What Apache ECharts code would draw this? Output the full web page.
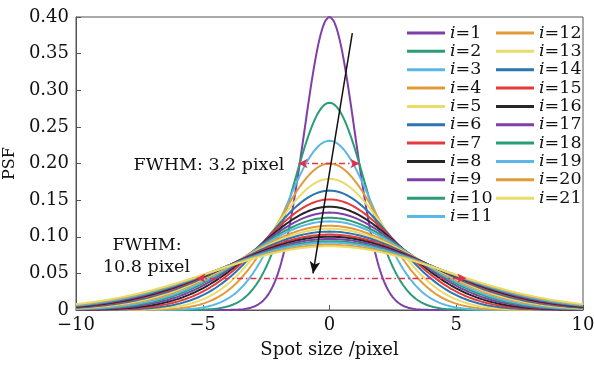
<!DOCTYPE html>
<html>
<head>
<meta charset="utf-8">
<script src="https://cdn.jsdelivr.net/npm/echarts@6/dist/echarts.min.js"></script>
<style>
  html, body { margin: 0; padding: 0; background: #fff; }
  #chart { width: 594px; height: 366px; }
</style>
</head>
<body>
<div id="chart"></div>
<script>
// Peak PSF value of each spot index i = 1..21 (normalised Gaussian spots)
const spotIndex = [1, 2, 3, 4, 5, 6, 7, 8, 9, 10, 11, 12, 13, 14, 15, 16, 17, 18, 19, 20, 21];
const peakPSF = [0.400, 0.283, 0.231, 0.200, 0.179, 0.163, 0.151, 0.141, 0.133, 0.126, 0.121,
                 0.115, 0.111, 0.107, 0.103, 0.100, 0.097, 0.094, 0.092, 0.089, 0.087];

// Axis ticks
const xTicks = [-10, -5, 0, 5, 10];
const yTicks = [0, 0.05, 0.10, 0.15, 0.20, 0.25, 0.30, 0.35, 0.40];

// Half-maximum markers: [y, xLeft, xRight]
const fwhmNarrow = [0.200, -1.22, 1.18];
const fwhmWide = [0.0435, -5.25, 5.40];
// Trend arrow (start -> end)
const trendArrow = [[0.90, 0.378], [-0.65, 0.050]];

const palette = ['#7E3FA8', '#2A9D78', '#5BB8E6', '#E39B3A', '#E9DC6A', '#2C75B0', '#E5393B', '#262626'];
const serif = 'DejaVu Serif';

// Sample each spot profile across the axis range
function profile(peak) {
  const sigma = 1 / (peak * Math.sqrt(2 * Math.PI));
  const pts = [];
  for (let k = 0; k <= 400; k++) {
    const x = xTicks[0] + k * 0.05;
    pts.push([x, peak * Math.exp(-x * x / (2 * sigma * sigma))]);
  }
  return pts;
}

const names = spotIndex.map(i => 'i=' + i);
const series = spotIndex.map((i, k) => ({
  name: names[k],
  type: 'line',
  symbol: 'none',
  color: palette[k % palette.length],
  lineStyle: { width: 2, color: palette[k % palette.length] },
  data: profile(peakPSF[k]),
  silent: true,
  animation: false
}));

const redDash = { color: '#E0304A', width: 1.3, type: [6, 3, 1.5, 3] };

// Annotation arrows
series.push({
  name: 'annot',
  type: 'line',
  data: [],
  animation: false,
  markLine: {
    silent: true,
    animation: false,
    label: { show: false },
    data: [
      [
        { coord: [fwhmNarrow[1], fwhmNarrow[0]], symbol: 'arrow', symbolSize: [7, 9] },
        { coord: [fwhmNarrow[2], fwhmNarrow[0]], symbol: 'arrow', symbolSize: [7, 9], lineStyle: redDash }
      ],
      [
        { coord: [fwhmWide[1], fwhmWide[0]], symbol: 'arrow', symbolSize: [7, 9] },
        { coord: [fwhmWide[2], fwhmWide[0]], symbol: 'arrow', symbolSize: [7, 9], lineStyle: redDash }
      ],
      [
        { coord: trendArrow[0], symbol: 'none' },
        { coord: trendArrow[1], symbol: 'arrow', symbolSize: [8, 12],
          lineStyle: { color: '#111', width: 1.5, type: 'solid' } }
      ]
    ]
  }
});

const legendText = {
  fontFamily: serif,
  fontSize: 17.5,
  color: '#111',
  lineHeight: 16,
  rich: {
    it: { fontFamily: serif, fontStyle: 'italic', fontSize: 17.5, color: '#111', lineHeight: 16 },
    n: { fontFamily: serif, fontSize: 17.5, color: '#111', lineHeight: 16 }
  }
};
const legendFmt = name => '{it|i}{n|' + name.slice(1) + '}';

const legendBase = {
  orient: 'vertical', top: 24, padding: 0,
  icon: 'rect', itemWidth: 38, itemHeight: 3, itemGap: 0.35,
  textStyle: legendText, formatter: legendFmt,
  selectedMode: false
};

const chart = echarts.init(document.getElementById('chart'), null, { renderer: 'canvas' });
chart.setOption({
  animation: false,
  backgroundColor: '#fff',
  grid: {
    left: 76, right: 11, top: 17, bottom: 56,
    outerBoundsMode: 'none', containLabel: false,
    show: true, borderColor: '#555', borderWidth: 1
  },
  legend: [
    Object.assign({ data: names.slice(0, 11), left: 407 }, legendBase),
    Object.assign({ data: names.slice(11), left: 496 }, legendBase)
  ],
  xAxis: {
    type: 'value',
    min: xTicks[0], max: xTicks[xTicks.length - 1], interval: 5,
    name: 'Spot size /pixel',
    nameLocation: 'middle', nameGap: 31,
    nameTextStyle: { fontFamily: serif, fontSize: 18, color: '#111' },
    axisLine: { show: true, onZero: false, lineStyle: { color: '#555', width: 1 } },
    axisTick: { show: true, inside: true, length: 5, lineStyle: { color: '#555' } },
    axisLabel: {
      margin: 6, fontFamily: serif, fontSize: 18, color: '#111',
      formatter: v => (v < 0 ? '\u2212' + Math.abs(v) : String(v))
    },
    splitLine: { show: false }
  },
  yAxis: {
    type: 'value',
    min: 0, max: yTicks[yTicks.length - 1], interval: 0.05,
    name: 'PSF',
    nameLocation: 'middle', nameGap: 52, nameRotate: 90,
    nameTextStyle: { fontFamily: serif, fontSize: 16, color: '#111' },
    axisLine: { show: true, onZero: false, lineStyle: { color: '#555', width: 1 } },
    axisTick: { show: true, inside: true, length: 5, lineStyle: { color: '#555' } },
    axisLabel: {
      margin: 7, fontFamily: serif, fontSize: 18, color: '#111',
      formatter: v => (v === 0 ? '0' : v.toFixed(2))
    },
    splitLine: { show: false }
  },
  graphic: [
    { type: 'text', x: 209, y: 165,
      style: { text: 'FWHM: 3.2 pixel', font: '17.5px "DejaVu Serif"', fill: '#111', align: 'center', verticalAlign: 'middle' } },
    { type: 'text', x: 147, y: 245,
      style: { text: 'FWHM:', font: '17.5px "DejaVu Serif"', fill: '#111', align: 'center', verticalAlign: 'middle' } },
    { type: 'text', x: 146.5, y: 267,
      style: { text: '10.8 pixel', font: '17.5px "DejaVu Serif"', fill: '#111', align: 'center', verticalAlign: 'middle' } }
  ],
  series: series
});
</script>
</body>
</html>
